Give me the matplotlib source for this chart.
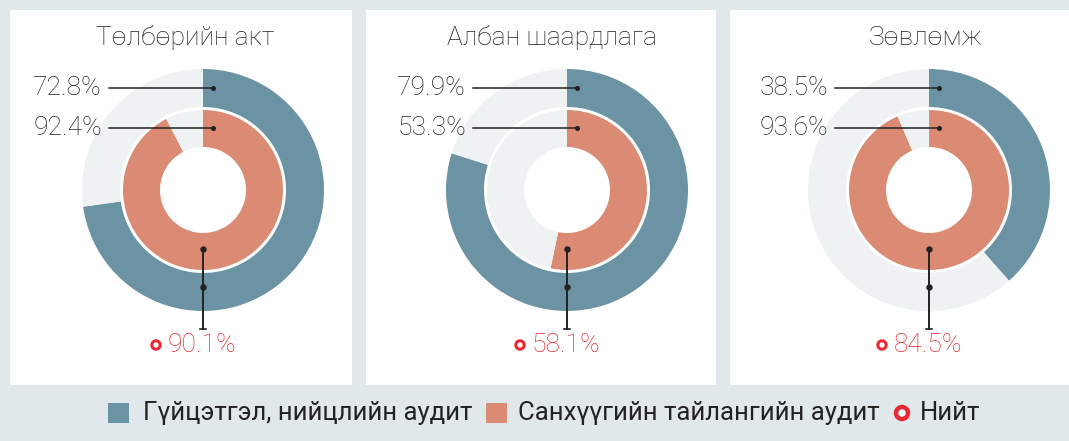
import matplotlib.pyplot as plt
from matplotlib.patches import Rectangle, Circle

# категори, утгууд
titles = ['Төлбөрийн акт', 'Албан шаардлага', 'Зөвлөмж']
performance = [72.8, 79.9, 38.5]   # Гүйцэтгэл, нийцлийн аудит (гадна цагираг)
financial = [92.4, 53.3, 93.6]     # Санхүүгийн тайлангийн аудит (дотор цагираг)
total = [90.1, 58.1, 84.5]         # Нийт
legend_labels = ['Гүйцэтгэл, нийцлийн аудит', 'Санхүүгийн тайлангийн аудит', 'Нийт']

BLUE = '#6c93a3'
ORANGE = '#db8b73'
LIGHT = '#eef2f3'
BG = '#e0e8eb'
RED = '#ea2a33'
TXT = '#222222'

plt.rcParams['font.family'] = ['Roboto', 'DejaVu Sans']

W, H = 1069, 441
fig = plt.figure(figsize=(W / 100, H / 100), dpi=100, facecolor=BG)
ax = fig.add_axes([0, 0, 1, 1])


def Y(py):
    # пикселийн y-г (дээрээс) өгөгдлийн координат руу
    return H - py


# цагаан самбарууд
panels = [(10, 352), (366, 716), (730, 1069)]
for x0, x1 in panels:
    ax.add_patch(Rectangle((x0, Y(385)), x1 - x0, 375, facecolor='white',
                           edgecolor='none', zorder=0))

centers = [203, 567, 929]
title_x = [185, 552, 926]
cy = 190

for i in range(3):
    cx = centers[i]
    p = performance[i]
    f = financial[i]
    ax.pie([p, 100 - p], colors=[BLUE, LIGHT], radius=121, center=(cx, Y(cy)),
           startangle=90, counterclock=False,
           wedgeprops=dict(width=38, edgecolor='none', linewidth=0))
    ax.pie([f, 100 - f], colors=[ORANGE, LIGHT], radius=80, center=(cx, Y(cy)),
           startangle=90, counterclock=False,
           wedgeprops=dict(width=37, edgecolor='none', linewidth=0))

    ax.text(title_x[i], Y(38), titles[i], ha='center', va='center',
            fontsize=19, color=TXT, fontweight='light')

    # хэвтээ заагч шугамууд
    for py, val in [(88, p), (128, f)]:
        ax.plot([cx - 94, cx + 10], [Y(py), Y(py)], color='#222222', lw=1.1, zorder=5)
        ax.plot([cx + 10], [Y(py)], 'o', color='#222222', ms=2.6, zorder=6)
        ax.text(cx - 101, Y(py), f'{val}%', ha='right', va='center',
                fontsize=19, color=TXT, fontweight='light')

    # босоо шугам
    ax.plot([cx, cx], [Y(249), Y(329)], color='#222222', lw=1.4, zorder=5)
    ax.plot([cx, cx], [Y(249), Y(287)], 'o', color='#222222', ms=3.6, zorder=6)
    ax.plot([cx - 3, cx + 3], [Y(329), Y(329)], color='#222222', lw=1.2, zorder=5)

    ax.add_patch(Circle((cx - 47, Y(345)), 4.2, facecolor='white', edgecolor=RED,
                        lw=2.2, zorder=6))
    ax.text(cx - 35, Y(345), f'{total[i]}%', ha='left', va='center',
            fontsize=19, color=RED, fontweight='light')

# тайлбар
ly = 413
ax.add_patch(Rectangle((108, Y(423)), 21, 20, facecolor=BLUE, edgecolor='none'))
ax.text(143, Y(ly), legend_labels[0], ha='left', va='center', fontsize=18.5,
        color=TXT)
ax.add_patch(Rectangle((486, Y(423)), 21, 20, facecolor=ORANGE, edgecolor='none'))
ax.text(518, Y(ly), legend_labels[1], ha='left', va='center', fontsize=18.5,
        color=TXT)
ax.add_patch(Circle((902, Y(ly)), 6, facecolor='white', edgecolor=RED, lw=3.2))
ax.text(920, Y(ly), legend_labels[2], ha='left', va='center', fontsize=18.5,
        color=TXT)

ax.set_xlim(0, W)
ax.set_ylim(0, H)
ax.set_aspect('equal')
ax.axis('off')

fig.savefig('out.png', dpi=100, facecolor=BG)
